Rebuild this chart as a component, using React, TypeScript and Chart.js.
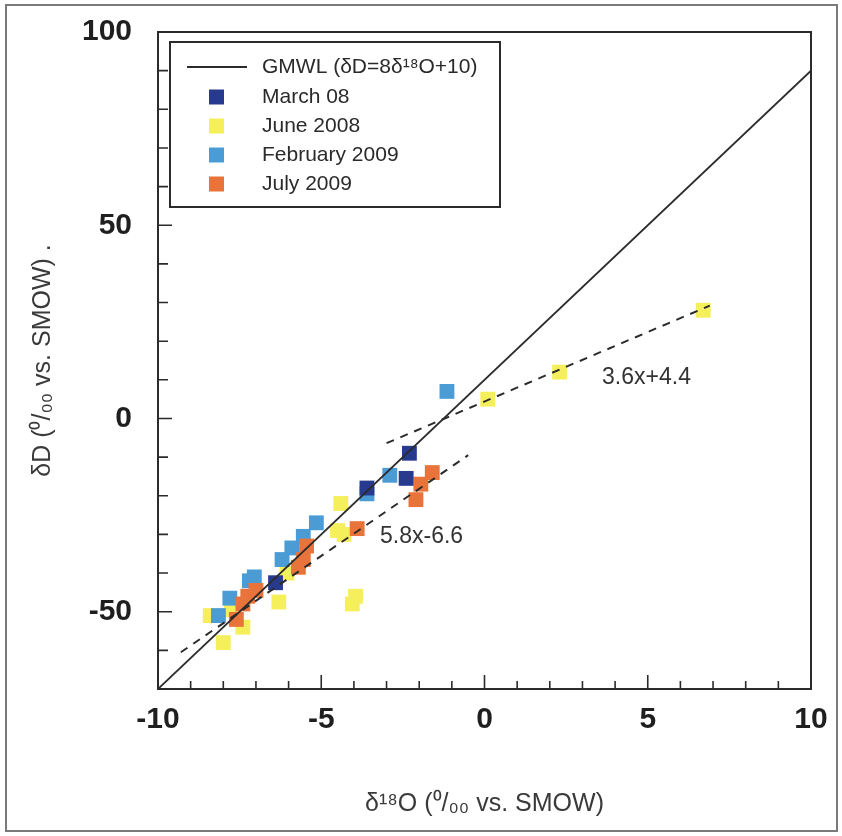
import React, { useEffect, useRef } from 'react';
import { Chart, registerables } from 'chart.js';

Chart.register(...registerables);

// ---- data ----
const gmwlX = [-10, 10];
const gmwlY = [-70, 90];

const fitUpperX = [-3.0, 6.9];
const fitUpperY = [-6.4, 29.2];
const fitLowerX = [-9.3, -0.5];
const fitLowerY = [-60.5, -9.5];

const marchX = [-2.3, -2.4, -3.6, -6.4];
const marchY = [-9, -15.5, -18, -42.5];

const juneX = [6.7, 2.3, 0.1, -4.4, -4.5, -4.3, -3.95, -4.05, -6.05, -6.3, -7.75, -8.4, -7.4, -8.0];
const juneY = [28, 12, 5, -22, -29, -30, -46, -48, -40, -47.5, -49.5, -51, -54, -58];

const febX = [-1.15, -2.9, -3.6, -5.15, -5.55, -5.9, -6.2, -7.05, -7.2, -7.8, -8.15];
const febY = [7, -14.7, -19.5, -27, -30.5, -33.5, -36.5, -41, -42, -46.5, -51];

const julyX = [-1.6, -1.95, -2.1, -3.9, -5.45, -5.55, -5.7, -7.0, -7.25, -7.4, -7.6];
const julyY = [-14, -17, -21, -28.5, -33, -36.5, -38.5, -44.5, -46, -48, -52];

const xLabeledTicks = [-10, -5, 0, 5, 10];
const yLabeledTicks = [-50, 0, 50, 100];

const fitLabels = ['3.6x+4.4', '5.8x-6.6'];
const fitLabelX = [3.6, -3.2];
const fitLabelY = [10.6, -30.7];

const legendLabels = ['GMWL (δD=8δ¹⁸O+10)', 'March 08', 'June 2008', 'February 2009', 'July 2009'];

const FONT = "'Liberation Sans', Arial, Helvetica, sans-serif";
const INK = '#2b2b2b';
const COLORS = {
  march: '#283a8e',
  june: '#f5ef5c',
  feb: '#4b9bd5',
  july: '#e8743c',
};

const pts = (xs: number[], ys: number[]) => xs.map((x, i) => ({ x, y: ys[i] }));

const decorPlugin = {
  id: 'decor',
  beforeDraw(chart: any) {
    const ctx = chart.ctx;
    ctx.save();
    ctx.fillStyle = '#ffffff';
    ctx.fillRect(0, 0, chart.width, chart.height);
    ctx.strokeStyle = '#7a7a7a';
    ctx.lineWidth = 2;
    ctx.strokeRect(6, 5, chart.width - 11, chart.height - 10);
    ctx.restore();
  },
  afterDatasetsDraw(chart: any) {
    const ctx = chart.ctx;
    const area = chart.chartArea;
    const xs = chart.scales.x;
    const ys = chart.scales.y;
    ctx.save();
    // plot frame
    ctx.strokeStyle = INK;
    ctx.lineWidth = 2;
    ctx.strokeRect(area.left, area.top, area.right - area.left, area.bottom - area.top);
    // inward ticks
    ctx.lineWidth = 1.6;
    ctx.beginPath();
    xs.ticks.forEach((t: any) => {
      const px = xs.getPixelForValue(t.value);
      const len = Math.abs(t.value % 5) < 1e-9 ? 14 : 8;
      ctx.moveTo(px, area.bottom);
      ctx.lineTo(px, area.bottom - len);
    });
    ys.ticks.forEach((t: any) => {
      const py = ys.getPixelForValue(t.value);
      const len = Math.abs(t.value % 50) < 1e-9 ? 14 : 10;
      ctx.moveTo(area.left, py);
      ctx.lineTo(area.left + len, py);
    });
    ctx.stroke();

    // fit labels
    ctx.fillStyle = '#333';
    ctx.font = `23px ${FONT}`;
    ctx.textAlign = 'left';
    ctx.textBaseline = 'middle';
    fitLabels.forEach((s, i) => {
      ctx.fillText(s, xs.getPixelForValue(fitLabelX[i]), ys.getPixelForValue(fitLabelY[i]));
    });

    // legend
    const lx = area.left + 12;
    const ly = area.top + 10;
    const lw = 330;
    const lh = 165;
    ctx.fillStyle = '#fff';
    ctx.fillRect(lx, ly, lw, lh);
    ctx.strokeStyle = INK;
    ctx.lineWidth = 2;
    ctx.strokeRect(lx, ly, lw, lh);
    const items = chart.data.datasets.filter((d: any) => !d.noLegend);
    const rowY = [25, 55, 84, 113, 142];
    ctx.font = `21px ${FONT}`;
    items.forEach((d: any, i: number) => {
      const cy = ly + rowY[i];
      if (d.showLine) {
        ctx.strokeStyle = d.borderColor;
        ctx.lineWidth = 2;
        ctx.beginPath();
        ctx.moveTo(lx + 17, cy);
        ctx.lineTo(lx + 77, cy);
        ctx.stroke();
      } else {
        ctx.fillStyle = d.backgroundColor;
        ctx.fillRect(lx + 39, cy - 7.5, 15, 15);
      }
      ctx.fillStyle = '#2a2a2a';
      ctx.fillText(legendLabels[i], lx + 92, cy);
    });
    ctx.restore();
  },
};

export default function App() {
  const ref = useRef<HTMLCanvasElement>(null);
  useEffect(() => {
    const canvas = ref.current;
    if (!canvas) return;
    const lineCommon = {
      type: 'scatter' as const,
      showLine: true,
      pointRadius: 0,
      borderColor: INK,
      backgroundColor: INK,
      fill: false,
    };
    const pointCommon = {
      type: 'scatter' as const,
      pointStyle: 'rect' as const,
      pointRadius: 10.5,
      pointBorderWidth: 0,
      borderWidth: 0,
      showLine: false,
    };
    const chart = new Chart(canvas, {
      type: 'scatter',
      data: {
        datasets: [
          { ...lineCommon, label: legendLabels[0], data: pts(gmwlX, gmwlY), borderWidth: 1.8, order: 0 },
          { ...lineCommon, label: fitLabels[0], data: pts(fitUpperX, fitUpperY), borderWidth: 2, borderDash: [8, 7], order: 0, noLegend: true } as any,
          { ...lineCommon, label: fitLabels[1], data: pts(fitLowerX, fitLowerY), borderWidth: 2, borderDash: [8, 7], order: 0, noLegend: true } as any,
          { ...pointCommon, label: legendLabels[1], data: pts(marchX, marchY), backgroundColor: COLORS.march, borderColor: COLORS.march, order: 1 },
          { ...pointCommon, label: legendLabels[2], data: pts(juneX, juneY), backgroundColor: COLORS.june, borderColor: COLORS.june, order: 4 },
          { ...pointCommon, label: legendLabels[3], data: pts(febX, febY), backgroundColor: COLORS.feb, borderColor: COLORS.feb, order: 3 },
          { ...pointCommon, label: legendLabels[4], data: pts(julyX, julyY), backgroundColor: COLORS.july, borderColor: COLORS.july, order: 2 },
        ],
      },
      options: {
        responsive: false,
        animation: false,
        layout: { padding: { top: 32, right: 31, left: 0, bottom: 0 } },
        plugins: { legend: { display: false }, tooltip: { enabled: false } },
        scales: {
          x: {
            type: 'linear',
            min: -10,
            max: 10,
            grid: { display: false },
            border: { display: false },
            ticks: {
              stepSize: 1,
              autoSkip: false,
              maxRotation: 0,
              padding: 5,
              color: '#1f1f1f',
              font: { family: FONT, size: 30, weight: 'bold' },
              callback: (v: any) => (xLabeledTicks.includes(Number(v)) ? String(v) : ''),
            },
            title: {
              display: true,
              text: 'δ¹⁸O (⁰/₀₀ vs. SMOW)',
              color: '#3a3a3a',
              font: { family: FONT, size: 25 },
              padding: { top: 0, bottom: 17 },
            },
            afterFit: (s: any) => {
              s.height = 147;
              s.paddingLeft = 0;
              s.paddingRight = 0;
            },
          },
          y: {
            type: 'linear',
            min: -70,
            max: 100,
            grid: { display: false },
            border: { display: false },
            ticks: {
              stepSize: 10,
              autoSkip: false,
              padding: 18,
              color: '#1f1f1f',
              font: { family: FONT, size: 30, weight: 'bold' },
              callback: (v: any) => (yLabeledTicks.includes(Number(v)) ? String(v) : ''),
            },
            title: {
              display: true,
              text: 'δD (⁰/₀₀ vs. SMOW) .',
              color: '#3a3a3a',
              font: { family: FONT, size: 25 },
              padding: { top: 28, bottom: 0 },
            },
            afterFit: (s: any) => {
              s.width = 158;
              s.paddingTop = 0;
              s.paddingBottom = 0;
            },
          },
        },
      } as any,
      plugins: [decorPlugin],
    });
    return () => chart.destroy();
  }, []);

  return (
    <div style={{ position: 'absolute', left: 0, top: 0, width: 842, height: 836, background: '#fff' }}>
      <canvas ref={ref} width={842} height={836} style={{ display: 'block' }} />
    </div>
  );
}
